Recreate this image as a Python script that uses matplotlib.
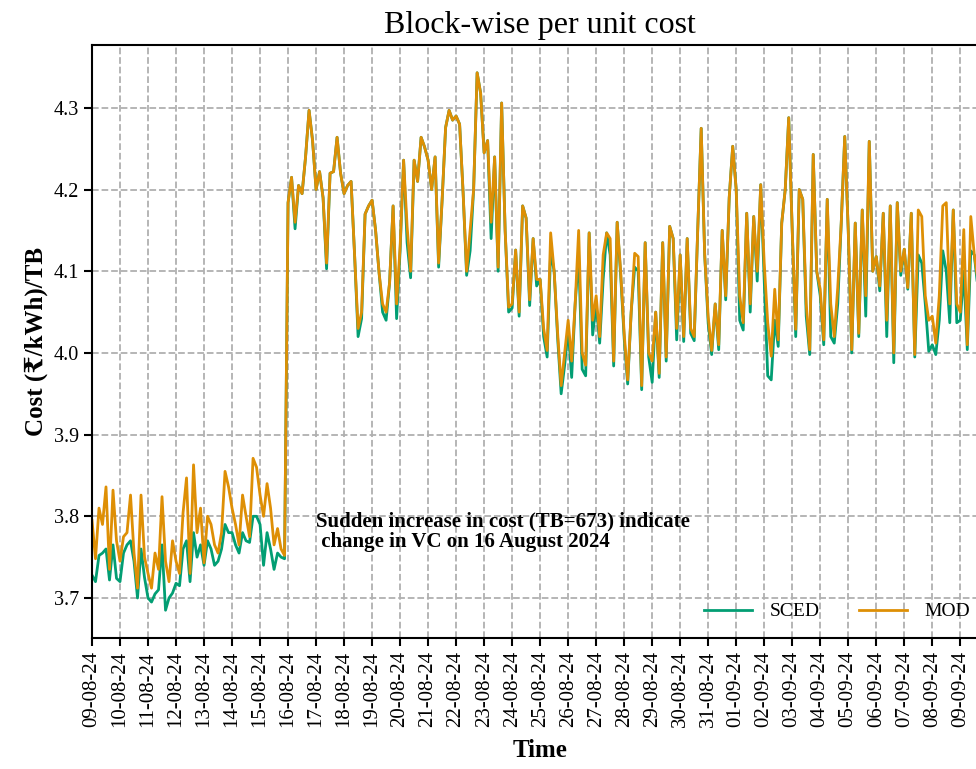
import datetime
import matplotlib
matplotlib.use('Agg')
import matplotlib.pyplot as plt
import matplotlib.dates as mdates

plt.rcParams['font.family'] = ['Liberation Serif', 'DejaVu Serif']

# 8 readings per day (every 3 hours), starting 09-08-2024 00:00
startDay = datetime.datetime(2024, 8, 9)
stepHours = 3

modCost = [
    3.795, 3.748, 3.810, 3.790, 3.836, 3.735, 3.832, 3.770,   # 09-08
    3.745, 3.775, 3.780, 3.826, 3.755, 3.712, 3.826, 3.750,   # 10-08
    3.730, 3.712, 3.755, 3.735, 3.824, 3.745, 3.720, 3.770,   # 11-08
    3.745, 3.730, 3.804, 3.847, 3.730, 3.863, 3.780, 3.810,   # 12-08
    3.743, 3.800, 3.790, 3.765, 3.755, 3.780, 3.855, 3.836,   # 13-08
    3.810, 3.790, 3.765, 3.826, 3.800, 3.775, 3.871, 3.860,   # 14-08
    3.826, 3.800, 3.840, 3.810, 3.765, 3.785, 3.760, 3.752,   # 15-08
    4.184, 4.215, 4.160, 4.205, 4.195, 4.240, 4.297, 4.260,   # 16-08
    4.200, 4.222, 4.190, 4.110, 4.220, 4.222, 4.264, 4.220,   # 17-08
    4.195, 4.205, 4.210, 4.120, 4.030, 4.050, 4.170, 4.180,   # 18-08
    4.187, 4.150, 4.098, 4.060, 4.050, 4.086, 4.180, 4.060,   # 19-08
    4.130, 4.236, 4.155, 4.100, 4.236, 4.210, 4.264, 4.252,   # 20-08
    4.236, 4.200, 4.240, 4.110, 4.187, 4.276, 4.297, 4.285,   # 21-08
    4.290, 4.280, 4.196, 4.100, 4.150, 4.200, 4.343, 4.318,   # 22-08
    4.245, 4.260, 4.160, 4.240, 4.105, 4.306, 4.150, 4.056,   # 23-08
    4.060, 4.126, 4.050, 4.180, 4.165, 4.065, 4.140, 4.090,   # 24-08
    4.090, 4.030, 4.003, 4.147, 4.100, 4.024, 3.960, 4.000,   # 25-08
    4.040, 3.990, 4.060, 4.150, 4.000, 3.985, 4.147, 4.040,   # 26-08
    4.070, 4.020, 4.120, 4.147, 4.140, 3.990, 4.160, 4.100,   # 27-08
    4.024, 3.967, 4.050, 4.122, 4.118, 3.960, 4.135, 4.000,   # 28-08
    3.990, 4.050, 3.975, 4.135, 3.995, 4.155, 4.140, 4.030,   # 29-08
    4.120, 4.020, 4.140, 4.030, 4.020, 4.150, 4.275, 4.120,   # 30-08
    4.044, 4.003, 4.060, 4.010, 4.150, 4.070, 4.190, 4.253,   # 31-08
    4.200, 4.070, 4.037, 4.171, 4.060, 4.167, 4.100, 4.206,   # 01-09
    4.110, 4.037, 3.996, 4.078, 4.016, 4.159, 4.200, 4.288,   # 02-09
    4.150, 4.029, 4.200, 4.188, 4.060, 4.004, 4.243, 4.100,   # 03-09
    4.078, 4.016, 4.188, 4.060, 4.020, 4.080, 4.159, 4.265,   # 04-09
    4.150, 4.004, 4.159, 4.024, 4.175, 4.070, 4.259, 4.100,   # 05-09
    4.118, 4.082, 4.171, 4.040, 4.180, 4.000, 4.184, 4.100,   # 06-09
    4.127, 4.080, 4.171, 3.998, 4.175, 4.167, 4.070, 4.040,   # 07-09
    4.045, 4.012, 4.070, 4.180, 4.184, 4.060, 4.175, 4.060,   # 08-09
    4.050, 4.151, 4.010, 4.167, 4.120, 4.090, 4.150, 4.080,   # 09-09
]

scedCost = [
    3.728, 3.720, 3.752, 3.755, 3.760, 3.722, 3.765, 3.724,   # 09-08
    3.720, 3.755, 3.765, 3.770, 3.745, 3.700, 3.760, 3.725,   # 10-08
    3.700, 3.695, 3.705, 3.710, 3.765, 3.685, 3.700, 3.706,   # 11-08
    3.718, 3.715, 3.760, 3.770, 3.720, 3.780, 3.750, 3.765,   # 12-08
    3.740, 3.770, 3.760, 3.740, 3.745, 3.760, 3.790, 3.780,   # 13-08
    3.780, 3.765, 3.755, 3.780, 3.770, 3.768, 3.800, 3.800,   # 14-08
    3.790, 3.740, 3.780, 3.760, 3.735, 3.755, 3.750, 3.748,   # 15-08
    4.184, 4.215, 4.152, 4.205, 4.195, 4.240, 4.297, 4.260,   # 16-08
    4.200, 4.222, 4.190, 4.103, 4.220, 4.222, 4.264, 4.220,   # 17-08
    4.195, 4.205, 4.210, 4.120, 4.020, 4.042, 4.170, 4.180,   # 18-08
    4.187, 4.150, 4.098, 4.050, 4.040, 4.086, 4.180, 4.042,   # 19-08
    4.125, 4.236, 4.135, 4.092, 4.236, 4.210, 4.264, 4.252,   # 20-08
    4.236, 4.200, 4.240, 4.105, 4.187, 4.276, 4.297, 4.285,   # 21-08
    4.290, 4.280, 4.196, 4.095, 4.125, 4.200, 4.343, 4.318,   # 22-08
    4.245, 4.260, 4.140, 4.240, 4.100, 4.306, 4.150, 4.050,   # 23-08
    4.055, 4.126, 4.045, 4.180, 4.165, 4.058, 4.140, 4.082,   # 24-08
    4.090, 4.020, 3.995, 4.125, 4.100, 4.018, 3.950, 3.985,   # 25-08
    4.030, 3.970, 4.060, 4.120, 3.980, 3.972, 4.147, 4.022,   # 26-08
    4.060, 4.012, 4.090, 4.147, 4.120, 3.984, 4.160, 4.095,   # 27-08
    4.018, 3.962, 4.050, 4.105, 4.100, 3.955, 4.135, 3.995,   # 28-08
    3.964, 4.050, 3.970, 4.135, 3.990, 4.155, 4.140, 4.016,   # 29-08
    4.120, 4.014, 4.140, 4.024, 4.015, 4.150, 4.275, 4.120,   # 30-08
    4.036, 3.998, 4.060, 4.004, 4.150, 4.065, 4.190, 4.253,   # 31-08
    4.200, 4.040, 4.028, 4.171, 4.050, 4.167, 4.088, 4.206,   # 01-09
    4.090, 3.972, 3.967, 4.040, 4.008, 4.159, 4.200, 4.288,   # 02-09
    4.150, 4.020, 4.200, 4.188, 4.045, 3.998, 4.243, 4.100,   # 03-09
    4.070, 4.010, 4.188, 4.020, 4.012, 4.060, 4.159, 4.265,   # 04-09
    4.150, 4.000, 4.159, 4.020, 4.175, 4.045, 4.259, 4.100,   # 05-09
    4.118, 4.076, 4.171, 4.020, 4.180, 3.988, 4.184, 4.095,   # 06-09
    4.127, 4.078, 4.171, 3.995, 4.120, 4.110, 4.060, 4.002,   # 07-09
    4.010, 3.998, 4.040, 4.125, 4.100, 4.037, 4.175, 4.037,   # 08-09
    4.040, 4.100, 4.004, 4.125, 4.120, 4.080, 4.150, 4.070,   # 09-09
]

seriesNames = ['SCED', 'MOD']
seriesColors = ['#029E73', '#DE8F05']

times = []
i = 0
while i < len(modCost):
    times.append(startDay + datetime.timedelta(hours=stepHours * i))
    i = i + 1

fig = plt.figure(figsize=(9.76, 7.69), dpi=100)
ax = fig.add_axes([92 / 976, 1 - 638 / 769, 896 / 976, 593 / 769])

ax.plot(times, scedCost, color=seriesColors[0], linewidth=2, label=seriesNames[0])
ax.plot(times, modCost, color=seriesColors[1], linewidth=2, label=seriesNames[1])

ax.set_xlim(startDay, startDay + datetime.timedelta(days=32, minutes=-15))
ax.set_ylim(3.651, 4.377)
ax.set_yticks([3.7, 3.8, 3.9, 4.0, 4.1, 4.2, 4.3])

ax.xaxis.set_major_locator(mdates.DayLocator())
ax.xaxis.set_major_formatter(mdates.DateFormatter('%d-%m-%y'))
plt.setp(ax.get_xticklabels(), rotation=90)
ax.tick_params(axis='both', length=6, width=1.5)
ax.tick_params(axis='x', labelsize=15)
ax.tick_params(axis='y', labelsize=14.5)

ax.grid(True, color='#b0b0b0', linestyle='--', linewidth=1.3)
for s in ax.spines.values():
    s.set_linewidth(1.5)

ax.set_title('Block-wise per unit cost', fontsize=23, pad=9)
ax.set_xlabel('Time', fontsize=18, fontweight='bold', labelpad=8)
ax.set_ylabel('Cost (₹/kWh)/TB', fontsize=18, fontweight='bold')

ax.text(datetime.datetime(2024, 8, 17), 3.806,
        'Sudden increase in cost (TB=673) indicate\n change in VC on 16 August 2024',
        fontsize=15, fontweight='bold', va='top', ha='left', linespacing=1.05)

ax.legend(loc='lower right', ncol=2, frameon=False, fontsize=14,
          handlelength=2.5, columnspacing=2.0, handletextpad=0.9)

fig.savefig('out.png', dpi=100)
